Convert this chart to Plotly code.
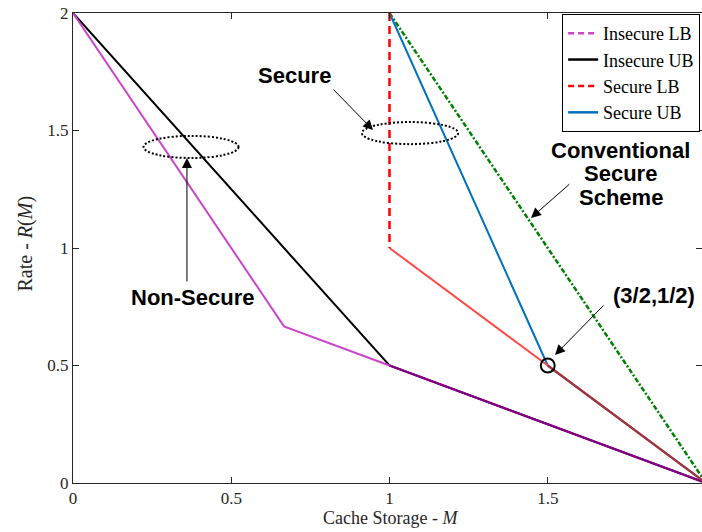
import plotly.graph_objects as go

# ---- data ----
insecure_lb_M = [0, 2/3, 1, 2]
insecure_lb_R = [2, 2/3, 0.5, 0]
insecure_ub_M = [0, 1, 2]
insecure_ub_R = [2, 0.5, 0]
secure_lb_M = [1, 1, 1.5, 2]
secure_lb_R = [2, 1, 0.5, 0]
secure_ub_M = [1, 1.5, 2]
secure_ub_R = [2, 0.5, 0]
conv_M = [1, 2]
conv_R = [2, 0]
x_ticks = [0, 0.5, 1, 1.5, 2]
y_ticks = [0, 0.5, 1, 1.5, 2]

MAGENTA = "#CC44CC"
PURPLE = "#800080"
RED = "#FF0000"
LIGHTRED = "#FF4848"
BROWN = "#A83238"
BLUE = "#0072BD"
GREEN = "#008000"
SERIF = "Liberation Serif"
SANS = "Liberation Sans"

fig = go.Figure()

# conventional secure scheme
fig.add_trace(go.Scatter(x=conv_M, y=conv_R, mode="lines", showlegend=False,
                         line=dict(color=GREEN, width=2.5, dash="5px,2px,2px,2px")))
# secure UB
fig.add_trace(go.Scatter(x=secure_ub_M, y=secure_ub_R, mode="lines", showlegend=False,
                         line=dict(color=BLUE, width=2)))
# insecure UB
fig.add_trace(go.Scatter(x=insecure_ub_M, y=insecure_ub_R, mode="lines", showlegend=False,
                         line=dict(color="black", width=2)))
# insecure LB
fig.add_trace(go.Scatter(x=insecure_lb_M, y=insecure_lb_R, mode="lines", showlegend=False,
                         line=dict(color=MAGENTA, width=2)))
# overlap insecure LB/UB
fig.add_trace(go.Scatter(x=insecure_lb_M[2:], y=insecure_lb_R[2:], mode="lines", showlegend=False,
                         line=dict(color=PURPLE, width=2.2)))
# secure LB: dashed vertical part
fig.add_trace(go.Scatter(x=secure_lb_M[:2], y=secure_lb_R[:2], mode="lines", showlegend=False,
                         line=dict(color=RED, width=2.5, dash="8px,5px")))
# secure LB: sloped part
fig.add_trace(go.Scatter(x=secure_lb_M[1:3], y=secure_lb_R[1:3], mode="lines", showlegend=False,
                         line=dict(color=LIGHTRED, width=2)))
# overlap secure LB/UB
fig.add_trace(go.Scatter(x=secure_lb_M[2:], y=secure_lb_R[2:], mode="lines", showlegend=False,
                         line=dict(color=BROWN, width=2.2)))

# legend entries
legend_items = [("Insecure LB", MAGENTA, "6px,4px"), ("Insecure UB", "black", "solid"),
                ("Secure LB", RED, "6px,4px"), ("Secure UB", BLUE, "solid")]
for name, col, dash in legend_items:
    fig.add_trace(go.Scatter(x=[None], y=[None], mode="lines", name=name,
                             line=dict(color=col, width=2.5, dash=dash)))

# ellipses and circle
fig.add_shape(type="circle", xref="x", yref="y", x0=0.373-0.150, x1=0.373+0.150,
              y0=1.430-0.047, y1=1.430+0.047, line=dict(color="black", width=2, dash="2px,2px"))
fig.add_shape(type="circle", xref="x", yref="y", x0=1.065-0.152, x1=1.065+0.152,
              y0=1.489-0.047, y1=1.489+0.047, line=dict(color="black", width=2, dash="2px,2px"))
fig.add_shape(type="circle", xref="x", yref="y", x0=1.5-0.022, x1=1.5+0.022,
              y0=0.5-0.030, y1=0.5+0.030, line=dict(color="black", width=2))

# arrows
arrows = [((0.360, 0.851), (0.360, 1.383)),
          ((0.818, 1.681), (0.948, 1.502)),
          ((1.573, 1.277), (1.447, 1.128)),
          ((1.681, 0.762), (1.523, 0.545))]
for (tx, ty), (hx, hy) in arrows:
    fig.add_annotation(x=hx, y=hy, ax=tx, ay=ty, xref="x", yref="y", axref="x", ayref="y",
                       text="", showarrow=True, arrowhead=2, arrowsize=2, arrowwidth=1,
                       arrowcolor="black")

labels = [("Non-Secure", 0.376, 0.789), ("Secure", 0.701, 1.736),
          ("Conventional", 1.731, 1.417), ("Secure", 1.731, 1.317), ("Scheme", 1.731, 1.215),
          ("(3/2,1/2)", 1.836, 0.800)]
for t, x, y in labels:
    fig.add_annotation(x=x, y=y, xref="x", yref="y", text="<b>%s</b>" % t, showarrow=False,
                       font=dict(family=SANS, size=22, color="black"))

# axis titles
fig.add_annotation(x=0.504, y=-0.075, xref="paper", yref="paper", xanchor="center",
                   yanchor="middle", text="Cache Storage - <i>M</i>", showarrow=False,
                   font=dict(family=SERIF, size=18, color="#262626"))
fig.add_annotation(x=-0.076, y=0.51, xref="paper", yref="paper", xanchor="center",
                   yanchor="middle", textangle=-90,
                   text="Rate - <i>R</i>(<i>M</i>)", showarrow=False,
                   font=dict(family=SERIF, size=20, color="#262626"))

axis_common = dict(showgrid=False, zeroline=False, showline=True, linecolor="#262626",
                   linewidth=1, mirror="ticks", ticks="inside", ticklen=6, tickcolor="#262626",
                   tickfont=dict(family=SERIF, size=17, color="#262626"))
fig.update_xaxes(range=[0, 2 * 629 / 633], tickvals=x_ticks, ticklabelstandoff=0,
                 ticktext=[("%g" % v) for v in x_ticks], **axis_common)
fig.update_yaxes(range=[0, 2], tickvals=y_ticks, ticklabelstandoff=0,
                 ticktext=[("%g" % v) for v in y_ticks], **axis_common)

fig.update_layout(width=702, height=532, margin=dict(l=73, r=0, t=13, b=49),
                  plot_bgcolor="white", paper_bgcolor="white",
                  legend=dict(x=0.997, y=0.998, xanchor="right", yanchor="top",
                              bordercolor="black", borderwidth=1, bgcolor="white",
                              font=dict(family=SERIF, size=18, color="black"),
                              tracegroupgap=0, itemwidth=30))

fig.write_html("out.html")
